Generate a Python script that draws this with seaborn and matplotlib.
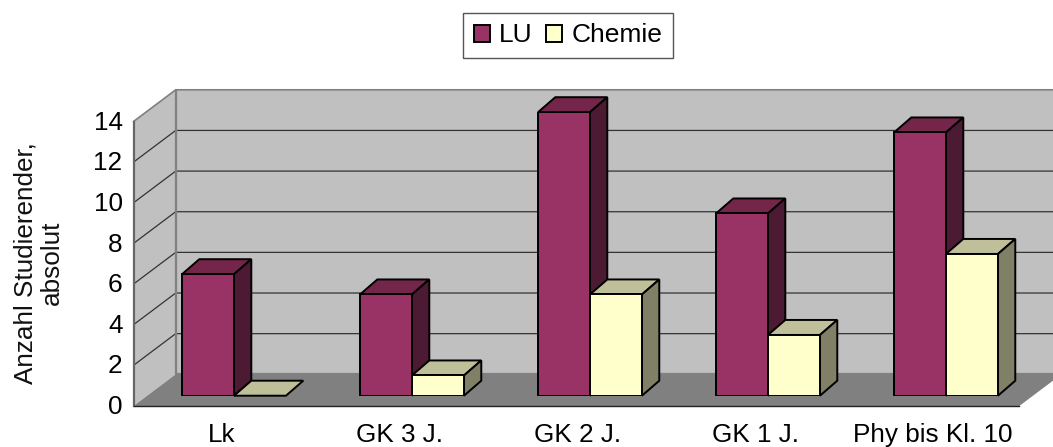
#! /usr/bin/env python3
# -*- coding: utf-8 -*-

import pandas as pd
import matplotlib
matplotlib.use('Agg')
import matplotlib.pyplot as plt
from matplotlib.patches import Polygon
from matplotlib.transforms import IdentityTransform, ScaledTranslation
import seaborn as sns

#Data
categories = ['Lk', 'GK 3 J.', 'GK 2 J.', 'GK 1 J.', 'Phy bis Kl. 10']
lu_values = [6, 5, 14, 9, 13]
chemie_values = [0, 1, 5, 3, 7]
y_ticks = [0, 2, 4, 6, 8, 10, 12, 14]
series_names = ['LU', 'Chemie']
y_title = 'Anzahl Studierender,\nabsolut'

#Styles
front_colors = ['#993366', '#FFFFCC']
side_colors = ['#4D1A33', '#808066']
top_colors = ['#732649', '#BFBF99']
WALL = '#C0C0C0'
FLOOR = '#808080'
EDGE_LW = 1.4
FONT = 18.8

W, H = 1053, 447
#Depth of the chart box and of the bars, in pixels
BOX_DX, BOX_DY = 42.2, 31.7
BAR_DX, BAR_DY = 17.3, 15.0

sns.set_theme(style='white')
plt.rcParams['font.family'] = ['Liberation Sans', 'DejaVu Sans']
plt.rcParams['text.color'] = 'black'


def px_axes(fig, left, top, right, bottom):
	'''Add axes given by pixel edges, with y counted from the top of the picture
	'''
	return fig.add_axes([left/W, 1-bottom/H, (right-left)/W, (bottom-top)/H])


def add_poly(ax, points, color, zorder, edge='none', lw=0):
	'''Add a polygon in display pixels
	'''
	ax.add_patch(Polygon(points, closed=True, facecolor=color, edgecolor=edge, linewidth=lw,
		transform=IdentityTransform(), clip_on=False, zorder=zorder, joinstyle='miter'))


def draw_box(ax):
	'''Draw side wall, back wall, floor and grid behind the front plane of the axes
	'''
	xmin, xmax = ax.get_xlim()
	x0, y0 = ax.transData.transform((xmin, 0))
	x1, y1 = ax.transData.transform((xmax, 14))
	add_poly(ax, [(x0+BOX_DX, y0+BOX_DY), (x1+BOX_DX, y0+BOX_DY), (x1+BOX_DX, y1+BOX_DY), (x0+BOX_DX, y1+BOX_DY)], WALL, 0.1)
	add_poly(ax, [(x0, y0), (x0+BOX_DX, y0+BOX_DY), (x0+BOX_DX, y1+BOX_DY), (x0, y1)], WALL, 0.1)
	add_poly(ax, [(x0, y0), (x1, y0), (x1+BOX_DX, y0+BOX_DY), (x0+BOX_DX, y0+BOX_DY)], FLOOR, 0.2)
	#grid lines run along the side wall and then along the back wall
	for tick in y_ticks[1:-1]:
		ypx = ax.transData.transform((0, tick))[1]
		ax.plot([x0, x0+BOX_DX, x1+BOX_DX], [ypx, ypx+BOX_DY, ypx+BOX_DY], color='#333333', lw=0.9,
			transform=IdentityTransform(), clip_on=False, zorder=0.3)
	#grey outline of the walls
	ax.plot([x0, x0+BOX_DX, x1+BOX_DX], [y1, y1+BOX_DY, y1+BOX_DY], color=FLOOR, lw=1.2,
		transform=IdentityTransform(), clip_on=False, zorder=0.4)
	ax.plot([x0+BOX_DX, x0+BOX_DX, x1+BOX_DX], [y1+BOX_DY, y0+BOX_DY, y0+BOX_DY], color=FLOOR, lw=1.6,
		transform=IdentityTransform(), clip_on=False, zorder=0.4)


def draw_depth(ax):
	'''Add top and side faces to the bars that seaborn has drawn
	'''
	for i, container in enumerate(ax.containers):
		for bar in container:
			bar.set_zorder(5)
			(xa, ya), (xb, yb) = ax.transData.transform(
				[(bar.get_x(), 0), (bar.get_x()+bar.get_width(), bar.get_height())])
			add_poly(ax, [(xa, yb), (xb, yb), (xb+BAR_DX, yb+BAR_DY), (xa+BAR_DX, yb+BAR_DY)],
				top_colors[i], 2+i, 'black', EDGE_LW)
			if yb > ya:
				add_poly(ax, [(xb, ya), (xb+BAR_DX, ya+BAR_DY), (xb+BAR_DX, yb+BAR_DY), (xb, yb)],
					side_colors[i], 2+i, 'black', EDGE_LW)


#####MAIN#####
df = pd.DataFrame({
	'category': categories*2,
	'series': [series_names[0]]*len(categories)+[series_names[1]]*len(categories),
	'value': lu_values+chemie_values,
})

fig = plt.figure(figsize=(W/100, H/100), dpi=100, facecolor='white')

#Front plane of the chart box carries the axes
ax = px_axes(fig, 133.5, 121.5, 1019.3, 406)
ax.set_xlim(-0.482, 4.5)
ax.set_ylim(0, 14)
ax.patch.set_visible(False)
ax.set_zorder(1)
for side in ['top', 'right']:
	ax.spines[side].set_visible(False)
ax.spines['left'].set_color('#666666')
ax.spines['left'].set_linewidth(1.6)
ax.spines['bottom'].set_color('#222222')
ax.spines['bottom'].set_linewidth(1.0)
ax.set_yticks(y_ticks)
ax.set_xticks([-0.482, 0.5, 1.5, 2.5, 3.5, 4.5], labels=[])
ax.set_xticks(range(len(categories)), labels=categories, minor=True)
ax.tick_params(axis='x', which='major', length=5, width=1.0, color='#333333')
ax.tick_params(axis='x', which='minor', length=0, pad=12, labelsize=FONT, labelcolor='black')
ax.tick_params(axis='y', length=4.3, width=1.0, color='#333333', pad=3.6, labelsize=FONT, labelcolor='black')
for label in ax.get_yticklabels():
	label.set_transform(label.get_transform()+ScaledTranslation(0, 1/72, fig.dpi_scale_trans))
for label in ax.get_xticklabels(minor=True):
	label.set_transform(label.get_transform()+ScaledTranslation(2/72, 0, fig.dpi_scale_trans))
fig.text(38.5/W, 1-263/H, y_title, rotation=90, ha='center', va='center', fontsize=FONT,
	color='#111111', linespacing=1.15)
draw_box(ax)

#The bars stand inside the box, on their own plane
bar_ax = px_axes(fig, 145, 395.7-14*20.25, 1035, 395.7)
bar_ax.set_zorder(2)
sns.barplot(data=df, x='category', y='value', hue='series', order=categories, hue_order=series_names,
	palette=front_colors, width=0.584, gap=0, saturation=1, edgecolor='black', linewidth=EDGE_LW, ax=bar_ax)
bar_ax.set_xlim(-0.5, 4.5)
bar_ax.set_ylim(0, 14)
bar_ax.patch.set_visible(False)
draw_depth(bar_ax)

handles, labels = bar_ax.get_legend_handles_labels()
bar_ax.get_legend().remove()
bar_ax.set_axis_off()
fig.legend(handles, labels, ncol=2, loc='center', bbox_to_anchor=(568/W, 1-35.5/H), fontsize=19,
	frameon=True, fancybox=False, edgecolor='#555555', framealpha=1, borderpad=0.4,
	handlelength=0.6, handleheight=0.6, handletextpad=0.36, columnspacing=0.5, borderaxespad=0)

fig.savefig('out.png', dpi=100)
plt.close()
